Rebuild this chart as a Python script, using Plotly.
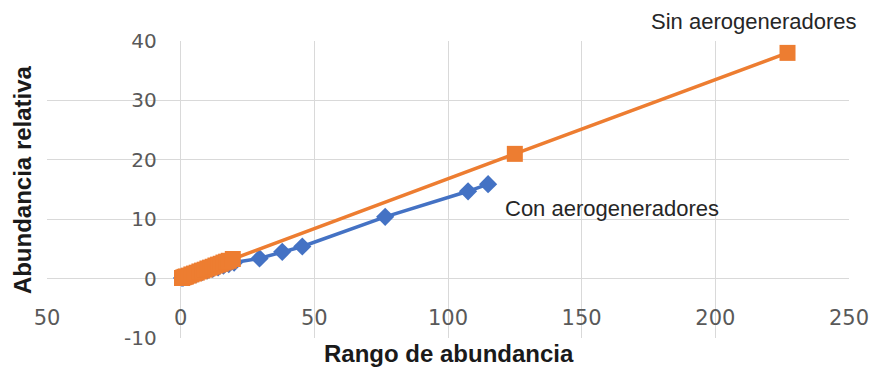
import plotly.graph_objects as go

# Rank-abundance data for the two scenarios
rank_sin = [0.5, 1, 1.5, 2, 3, 4, 5, 6, 7, 8, 9, 10, 11, 12, 13, 14, 15, 16, 17, 18, 19.5, 125, 227]
rel_sin = [0.1, 0.2, 0.3, 0.35, 0.5, 0.7, 0.85, 1.0, 1.2, 1.35, 1.5, 1.7, 1.85, 2.0, 2.2, 2.35, 2.5, 2.7, 2.85, 3.0, 3.3, 21.0, 38.0]

rank_con = [0.5, 1, 2, 3, 4, 5, 6, 8, 10, 12, 14, 16, 18, 20, 29.5, 38, 45.5, 76.5, 107.5, 115]
rel_con = [0.1, 0.15, 0.3, 0.4, 0.55, 0.7, 0.8, 1.1, 1.4, 1.65, 1.9, 2.2, 2.45, 2.7, 3.4, 4.5, 5.4, 10.4, 14.7, 15.9]

x_ticks = [-50, 0, 50, 100, 150, 200, 250]
x_tick_text = ["50", "0", "50", "100", "150", "200", "250"]
y_ticks = [-10, 0, 10, 20, 30, 40]
y_tick_text = ["-10", "0", "10", "20", "30", "40"]

BLUE = "#4472C4"
ORANGE = "#ED7D31"
GRID = "#D9D9D9"
TICK_FONT = dict(family="DejaVu Sans", size=20, color="#595959")

fig = go.Figure()
fig.add_trace(go.Scatter(
    x=rank_con, y=rel_con, mode="lines+markers",
    line=dict(color=BLUE, width=3.5),
    marker=dict(symbol="diamond", size=14, color=BLUE),
    showlegend=False,
))
fig.add_trace(go.Scatter(
    x=rank_sin, y=rel_sin, mode="lines+markers",
    line=dict(color=ORANGE, width=3.5),
    marker=dict(symbol="square", size=16, color=ORANGE),
    showlegend=False,
))

fig.update_layout(
    width=881, height=369,
    margin=dict(l=47, r=28, t=41, b=31),
    paper_bgcolor="white", plot_bgcolor="white",
    xaxis=dict(
        range=[-50, 250], tickvals=x_ticks, ticktext=x_tick_text,
        showgrid=True, gridcolor=GRID, gridwidth=1,
        zeroline=False, showline=False,
        anchor="free", position=0.2,
        ticks="outside", ticklen=0, ticklabelstandoff=20,
        tickfont=dict(family="DejaVu Sans", size=21, color="#595959"),
    ),
    yaxis=dict(
        range=[-10, 40], tickvals=y_ticks, ticktext=y_tick_text,
        showgrid=True, gridcolor=GRID, gridwidth=1,
        zeroline=False, showline=False,
        anchor="free", position=1 / 6,
        ticks="outside", ticklen=0, ticklabelstandoff=20,
        tickfont=TICK_FONT,
    ),
    annotations=[
        dict(text="Sin aerogeneradores", x=862, y=22, xref="paper", yref="paper",
             showarrow=False, xanchor="right", yanchor="middle",
             font=dict(family="Liberation Sans", size=22, color="#262626")),
        dict(text="Con aerogeneradores", x=505, y=208, xref="paper", yref="paper",
             showarrow=False, xanchor="left", yanchor="middle",
             font=dict(family="Liberation Sans", size=22, color="#262626")),
        dict(text="<b>Rango de abundancia</b>", x=451, y=353, xref="paper", yref="paper",
             showarrow=False, xanchor="center", yanchor="middle",
             font=dict(family="Liberation Sans", size=24, color="#1a1a1a")),
        dict(text="<b>Abundancia relativa</b>", x=22, y=180, xref="paper", yref="paper",
             showarrow=False, xanchor="center", yanchor="middle", textangle=-90,
             font=dict(family="Liberation Sans", size=24, color="#1a1a1a")),
    ],
)

# Annotation positions above are given in pixels; convert to paper fractions
plot_l, plot_t = 47, 41
plot_w, plot_h = 881 - 47 - 28, 369 - 41 - 31
for ann in fig.layout.annotations:
    ann.x = (ann.x - plot_l) / plot_w
    ann.y = 1 - (ann.y - plot_t) / plot_h

fig.write_html("out.html")
